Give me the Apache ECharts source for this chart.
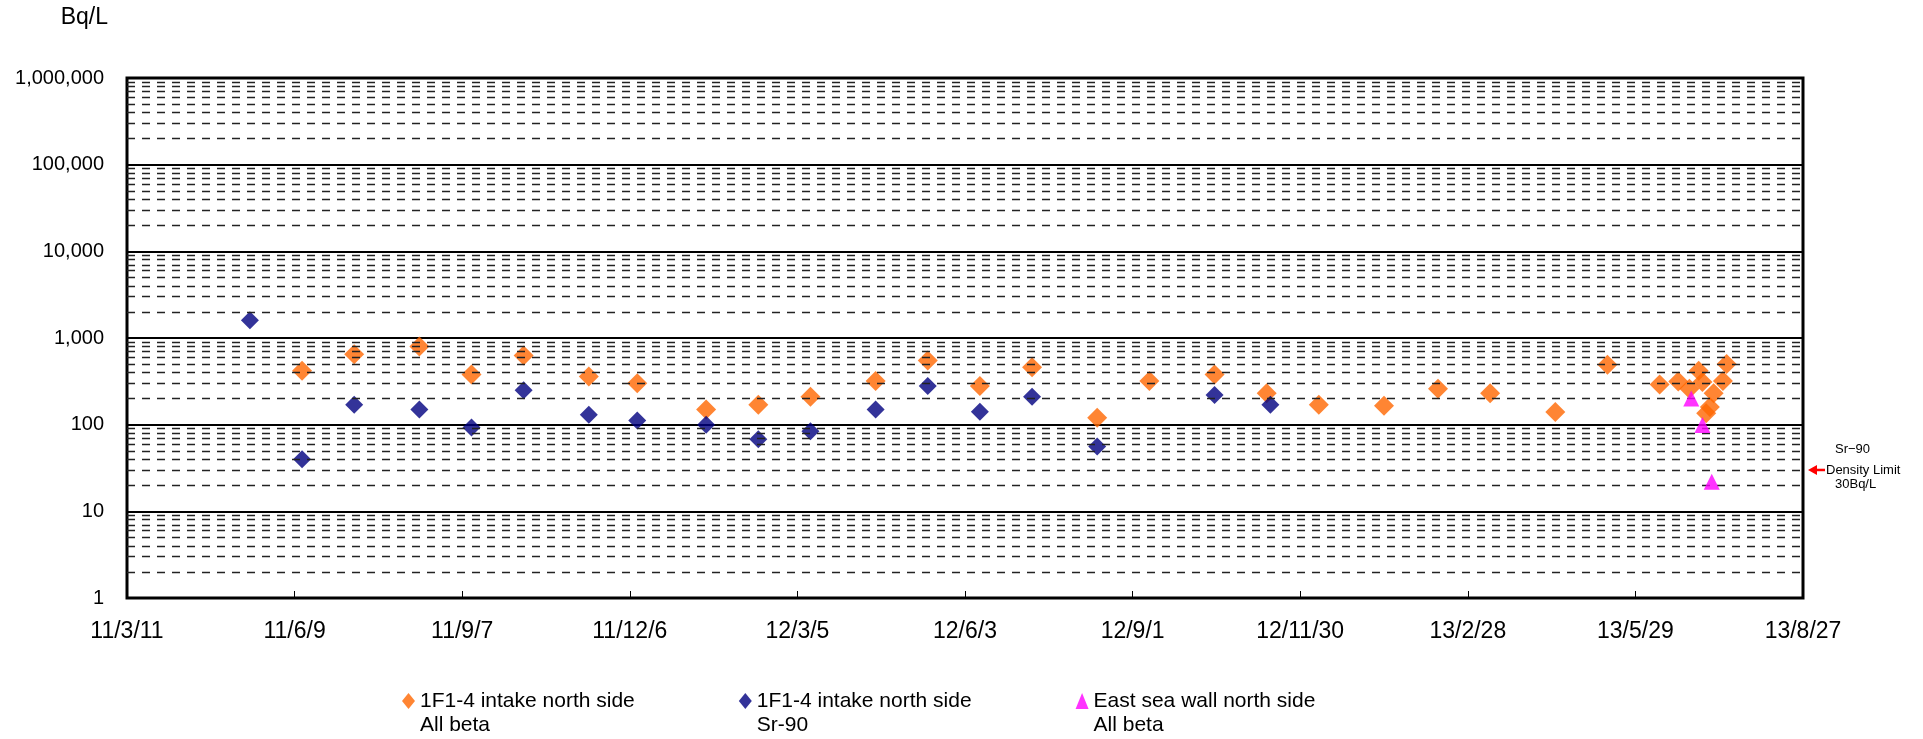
<!DOCTYPE html>
<html><head><meta charset="utf-8">
<script src="https://cdn.jsdelivr.net/npm/echarts@6/dist/echarts.min.js"></script>
<style>html,body{margin:0;padding:0;background:#fff}#c{width:1923px;height:739px}</style>
</head><body><div id="c"></div>
<script>
// ---- data ----
const baseDate = '2011-03-11';
const xTickStepDays = 90;
const xMaxDays = 900;
const yMin = 1, yMax = 1000000;
const minorMultipliers = [2, 3, 4, 5, 6, 7, 8, 9];
const unitLabel = 'Bq/L';

const seriesNames = [
  '1F1-4 intake north side\nAll beta',
  '1F1-4 intake north side\nSr-90',
  'East sea wall north side\nAll beta'
];

const allBetaDates = ['2011-06-13','2011-07-11','2011-08-15','2011-09-12','2011-10-10','2011-11-14','2011-12-10',
  '2012-01-16','2012-02-13','2012-03-12','2012-04-16','2012-05-14','2012-06-11','2012-07-09','2012-08-13',
  '2012-09-10','2012-10-15','2012-11-12','2012-12-10','2013-01-14','2013-02-12','2013-03-12','2013-04-16',
  '2013-05-14','2013-06-11','2013-06-21','2013-06-27','2013-07-02','2013-07-04','2013-07-06','2013-07-08',
  '2013-07-10','2013-07-15','2013-07-17'];
const allBetaValues = [420,650,800,380,630,360,300,
  150,170,210,320,550,280,460,120,
  320,380,230,170,165,260,230,140,
  490,290,315,260,420,310,135,160,
  230,320,500];

const sr90Dates = ['2011-05-16','2011-06-13','2011-07-11','2011-08-15','2011-09-12','2011-10-10','2011-11-14',
  '2011-12-10','2012-01-16','2012-02-13','2012-03-12','2012-04-16','2012-05-14','2012-06-11','2012-07-09',
  '2012-08-13','2012-10-15','2012-11-14'];
const sr90Values = [1600,40,170,150,93,250,130,
  112,100,68,84,150,280,141,210,
  56,220,170];

const seaWallDates = ['2013-06-28','2013-07-04','2013-07-09'];
const seaWallValues = [200,99,22];

const densityLimit = 30;
const annotationLines = ['Sr\u221290', 'Density Limit', '30Bq/L'];

// ---- helpers ----
const DAY = 86400000;
const base = Date.parse(baseDate + 'T00:00:00Z');
const toDay = s => Math.round((Date.parse(s + 'T00:00:00Z') - base) / DAY);
const pair = (ds, vs) => ds.map((d, i) => [toDay(d), vs[i]]);
const fmtDay = d => {
  const t = new Date(base + d * DAY);
  return (t.getUTCFullYear() % 100) + '/' + (t.getUTCMonth() + 1) + '/' + t.getUTCDate();
};
const minorValues = [];
for (let k = 0; Math.pow(10, k) < yMax; k++) minorMultipliers.forEach(m => minorValues.push(m * Math.pow(10, k)));

const FONT = 'Liberation Sans, Arial, sans-serif';
const chart = echarts.init(document.getElementById('c'), null, {renderer: 'canvas'});

chart.setOption({
  animation: false,
  backgroundColor: '#fff',
  grid: {left: 127, right: 120, top: 78, bottom: 141, show: true, borderColor: '#000', borderWidth: 3, backgroundColor: 'transparent'},
  xAxis: {
    type: 'value', min: 0, max: xMaxDays, interval: xTickStepDays,
    axisLine: {show: false},
    axisTick: {show: true, inside: true, length: 7, lineStyle: {color: '#000', width: 1}},
    splitLine: {show: false},
    axisLabel: {formatter: v => fmtDay(v), fontFamily: FONT, fontSize: 23, color: '#000', margin: 22, showMinLabel: true, showMaxLabel: true}
  },
  yAxis: {
    type: 'log', logBase: 10, min: yMin, max: yMax, splitNumber: 6,
    axisLine: {show: false}, axisTick: {show: false},
    splitLine: {show: true, lineStyle: {color: '#000', width: 2}},
    axisLabel: {formatter: v => Math.round(v).toLocaleString('en-US'), fontFamily: FONT, fontSize: 20, color: '#000', margin: 23}
  },
  legend: {
    left: 397, top: 660, itemWidth: 13, itemHeight: 16, itemGap: 104,
    formatter: name => '\n' + name,
    textStyle: {fontFamily: FONT, fontSize: 21, lineHeight: 24, color: '#000'},
    data: [
      {name: seriesNames[0], icon: 'diamond'},
      {name: seriesNames[1], icon: 'diamond'},
      {name: seriesNames[2], icon: 'triangle'}
    ],
    selectedMode: false
  },
  series: [
    {
      name: 'minor', type: 'scatter', data: [], silent: true, z: 1,
      markLine: {
        silent: true, symbol: ['none', 'none'], label: {show: false}, animation: false,
        lineStyle: {type: [8, 7], color: '#222', width: 1.3},
        data: minorValues.map(v => ({yAxis: v}))
      }
    },
    {name: seriesNames[0], type: 'scatter', symbol: 'diamond', symbolSize: 20, itemStyle: {color: '#FF6600'}, z: 3, data: pair(allBetaDates, allBetaValues)},
    {name: seriesNames[1], type: 'scatter', symbol: 'diamond', symbolSize: 18, itemStyle: {color: '#000080'}, z: 4, data: pair(sr90Dates, sr90Values)},
    {name: seriesNames[2], type: 'scatter', symbol: 'triangle', symbolSize: 16, itemStyle: {color: '#FF00FF'}, z: 5, data: pair(seaWallDates, seaWallValues)}
  ]
});

// unit label and annotation at the density limit
const yLim = chart.convertToPixel({yAxisIndex: 0}, densityLimit);
const xRight = chart.convertToPixel({xAxisIndex: 0}, xMaxDays);
const ax = xRight + 5;
chart.setOption({
  graphic: [
    {type: 'text', x: 108, y: 18, style: {text: unitLabel, font: '23px ' + FONT, fill: '#000', align: 'right', verticalAlign: 'middle'}},
    {type: 'polygon', shape: {points: [[ax, yLim], [ax + 9, yLim - 5], [ax + 9, yLim + 5]]}, style: {fill: '#FF0000'}},
    {type: 'line', shape: {x1: ax + 8, y1: yLim, x2: ax + 17, y2: yLim}, style: {stroke: '#FF0000', lineWidth: 2.5}},
    {type: 'text', x: ax + 27, y: yLim - 21, style: {text: annotationLines[0], font: '13px ' + FONT, fill: '#000', verticalAlign: 'middle'}},
    {type: 'text', x: ax + 18, y: yLim, style: {text: annotationLines[1], font: '13px ' + FONT, fill: '#000', verticalAlign: 'middle'}},
    {type: 'text', x: ax + 27, y: yLim + 14, style: {text: annotationLines[2], font: '13px ' + FONT, fill: '#000', verticalAlign: 'middle'}}
  ]
});
</script>
</body></html>
